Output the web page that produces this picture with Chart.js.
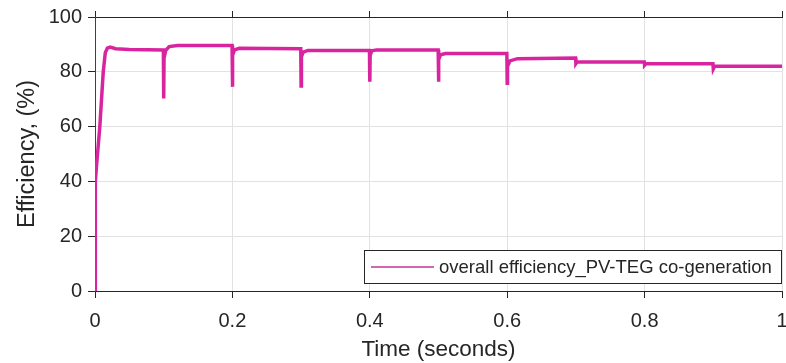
<!DOCTYPE html>
<html>
<head>
<meta charset="utf-8">
<script src="https://cdn.jsdelivr.net/npm/chart.js@4/dist/chart.umd.min.js"></script>
<style>
  html, body { margin: 0; padding: 0; background: #fff; }
  #wrap { width: 786px; height: 363px; }
</style>
</head>
<body>
<div id="wrap"><canvas id="effChart" width="786" height="363"></canvas></div>
<script>
// time (s) and overall efficiency (%)
const timeSec = [
  0, 0.0005, 0.002, 0.007, 0.012, 0.015, 0.018, 0.022, 0.03, 0.05, 0.0995,
  0.1, 0.1005, 0.103, 0.108, 0.12, 0.1995,
  0.2, 0.2005, 0.203, 0.21, 0.2995,
  0.3, 0.3005, 0.303, 0.31, 0.3995,
  0.4, 0.4005, 0.403, 0.41, 0.4995,
  0.5, 0.5005, 0.503, 0.51, 0.5995,
  0.6, 0.6005, 0.604, 0.615, 0.6995,
  0.7, 0.702, 0.7995,
  0.8, 0.802, 0.8995,
  0.9, 0.902, 1.0
];
const efficiency = [
  0, 40, 45, 60, 80, 87, 88.6, 89, 88.4, 88.1, 88,
  70.3, 85, 87.8, 89.2, 89.6, 89.6,
  74.5, 86, 88, 88.6, 88.4,
  74.8, 85.5, 87.2, 87.8, 87.8,
  76.4, 86, 87.7, 88, 88,
  76.4, 84.5, 86.2, 86.7, 86.7,
  75.8, 82, 84, 84.8, 85,
  83.0, 83.7, 83.6,
  82.4, 82.9, 82.9,
  81.0, 82.0, 82.0
];
const xTicks = [0, 0.2, 0.4, 0.6, 0.8, 1];
const yTicks = [0, 20, 40, 60, 80, 100];
const seriesName = "overall efficiency_PV-TEG co-generation";

const lineColor = "#d8259f";
const axisColor = "#262626";
const gridColor = "#e2e2e2";
const fontFam = "'Liberation Sans', Arial, sans-serif";

const points = timeSec.map((t, i) => ({ x: t, y: efficiency[i] }));

// legend box drawn inside the plot, lower right like the matlab figure
const boxLegend = {
  id: "boxLegend",
  afterDatasetsDraw(chart) {
    const ctx = chart.ctx;
    const a = chart.chartArea;
    const x0 = 364, y0 = 250, w = a.right - x0, h = 34;
    ctx.save();
    ctx.fillStyle = "#fff";
    ctx.fillRect(x0, y0, w, h);
    ctx.strokeStyle = axisColor;
    ctx.lineWidth = 1;
    ctx.strokeRect(x0 + 0.5, y0 + 0.5, w - 1, h - 1);
    ctx.strokeStyle = "#d466ad";
    ctx.lineWidth = 2;
    ctx.beginPath();
    ctx.moveTo(371, y0 + h / 2);
    ctx.lineTo(434, y0 + h / 2);
    ctx.stroke();
    ctx.fillStyle = axisColor;
    ctx.font = "18.5px " + fontFam;
    ctx.textBaseline = "middle";
    ctx.fillText(chart.data.datasets[0].label, 439, y0 + h / 2 + 1);
    ctx.restore();
  }
};

new Chart("effChart", {
  type: "line",
  data: {
    datasets: [{
      label: seriesName,
      data: points,
      borderColor: lineColor,
      borderWidth: 3.5,
      pointRadius: 0,
      tension: 0,
      fill: false
    }]
  },
  options: {
    responsive: false,
    animation: false,
    layout: { padding: { left: 0, right: 4, top: 0, bottom: 0 } },
    plugins: { legend: { display: false }, tooltip: { enabled: false } },
    scales: {
      x: {
        type: "linear",
        position: "bottom",
        min: 0, max: 1,
        afterBuildTicks: s => { s.ticks = xTicks.map(v => ({ value: v })); },
        ticks: {
          color: axisColor,
          font: { family: fontFam, size: 20 },
          padding: 11,
          maxRotation: 0,
          callback: v => String(v)
        },
        grid: { color: gridColor, tickColor: axisColor, tickLength: 7 },
        border: { color: axisColor, width: 1 },
        title: {
          display: true,
          text: "Time (seconds)",
          color: axisColor,
          font: { family: fontFam, size: 22.5, lineHeight: 1.2 },
          padding: { top: 0, bottom: 0 }
        },
        afterFit: s => { s.height = 72; s.paddingLeft = 0; s.paddingRight = 0; }
      },
      xTop: {
        type: "linear",
        position: "top",
        min: 0, max: 1,
        afterBuildTicks: s => { s.ticks = xTicks.map(v => ({ value: v })); },
        ticks: { display: false },
        grid: { drawOnChartArea: false, tickColor: axisColor, tickLength: 6 },
        border: { color: axisColor, width: 1 },
        afterFit: s => { s.height = 17; s.paddingLeft = 0; s.paddingRight = 0; }
      },
      y: {
        min: 0, max: 100,
        afterBuildTicks: s => { s.ticks = yTicks.map(v => ({ value: v })); },
        ticks: {
          color: axisColor,
          font: { family: fontFam, size: 20 },
          padding: 6
        },
        grid: { color: gridColor, tickColor: axisColor, tickLength: 7 },
        border: { color: "#404040", width: 1 },
        title: {
          display: true,
          text: "Efficiency, (%)",
          color: axisColor,
          font: { family: fontFam, size: 23.5, lineHeight: 1.2 },
          padding: { top: 13, bottom: 0 }
        },
        afterFit: s => { s.width = 95; s.paddingTop = 0; s.paddingBottom = 0; }
      }
    }
  },
  plugins: [boxLegend]
});
</script>
</body>
</html>
